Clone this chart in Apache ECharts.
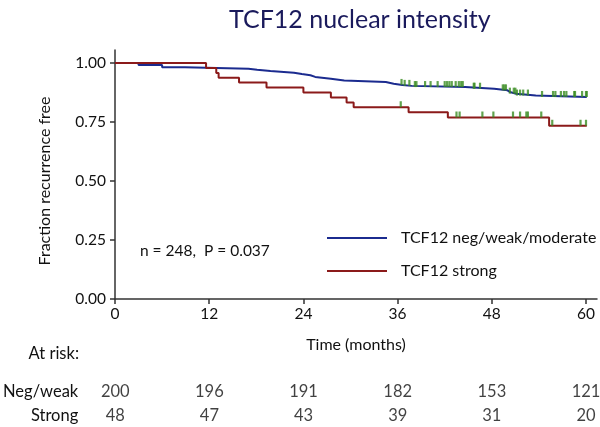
<!DOCTYPE html>
<html><head><meta charset="utf-8">
<script src="https://cdn.jsdelivr.net/npm/echarts@6/dist/echarts.min.js"></script>
<style>html,body{margin:0;padding:0;background:#fff}#c{width:600px;height:427px}</style>
</head><body><div id="c"></div>
<script>
// ---- data ----
const xTicks = [0, 12, 24, 36, 48, 60];
const yTicks = [0, 0.25, 0.5, 0.75, 1];
const seriesNames = ['TCF12 neg/weak/moderate', 'TCF12 strong'];
const negTimes = [0, 3.0, 6.0, 8.9, 17.0, 18.1, 19.8, 22.8, 23.8, 24.9, 25.5, 27.5, 29.2, 34.5, 35.5, 36.6, 37.8, 44.6, 48.3, 50.0, 50.3, 51.1, 53.6, 60.1];
const negSurv  = [1, 0.9915, 0.982, 0.976, 0.9716, 0.966, 0.959, 0.953, 0.948, 0.941, 0.9335, 0.926, 0.919, 0.912, 0.907, 0.903, 0.898, 0.891, 0.884, 0.877, 0.870, 0.862, 0.856, 0.856];
const strongTimes = [0, 11.6, 12.9, 13.2, 15.8, 19.3, 24.0, 27.5, 29.5, 30.4, 37.4, 42.4, 55.3, 60.1];
const strongSurv  = [1, 0.979, 0.958, 0.9375, 0.917, 0.896, 0.875, 0.854, 0.833, 0.8125, 0.791, 0.769, 0.734, 0.734];
const negCensor = [36.5, 36.9, 37.5, 38.2, 38.4, 39.5, 40.2, 41.1, 42.0, 42.3, 42.6, 42.9, 43.4, 43.8, 44.1, 44.3, 45.7, 45.8, 46.5, 49.4, 49.6, 49.8, 50.3, 50.8, 51.0, 51.2, 51.6, 52.0, 52.6, 54.4, 55.8, 56.1, 56.8, 57.2, 57.5, 58.5, 58.6, 59.5, 60.0, 60.1];
const strongCensor = [36.4, 43.5, 43.9, 46.8, 48.2, 50.7, 51.6, 52.4, 52.6, 54.3, 55.7, 59.3, 60.0];
const riskRows = ['Neg/weak', 'Strong'];
const riskNeg = [200, 196, 191, 182, 153, 121];
const riskStrong = [48, 47, 43, 39, 31, 20];
const annotation = 'n = 248,  P = 0.037';

// ---- helpers ----
function pairs(ts, ss) { return ts.map((t, i) => [t, ss[i]]); }
function survAt(ts, ss, t) { let v = ss[0]; for (let i = 0; i < ts.length; i++) { if (ts[i] <= t) v = ss[i]; } return v; }
const FONT = 'Lato';
const BLUE = '#1b2b8f', RED = '#8b1a1a', GREEN = '#3a8c22', AX = '#333';
const XMAX = 61.4, YMAX = 1.055;

const riskData = [];
xTicks.forEach((t, i) => { riskData.push([t, riskRows[0], riskNeg[i]]); riskData.push([t, riskRows[1], riskStrong[i]]); });

const chart = echarts.init(document.getElementById('c'));
chart.setOption({
  animation: false,
  textStyle: { fontFamily: FONT },
  title: { text: 'TCF12 nuclear intensity', left: 224, top: 2,
    textStyle: { fontFamily: FONT, fontSize: 25, fontWeight: 'normal', color: '#1a1a5c' } },
  grid: [
    { left: 115, top: 50, width: 482, height: 249 },
    { left: 115, top: 380, width: 482, height: 52 }
  ],
  legend: { data: seriesNames.map(n => ({ name: n, icon: 'rect' })), orient: 'vertical', left: 322, top: 223,
    itemWidth: 60, itemHeight: 2, itemGap: 13,
    textStyle: { fontFamily: FONT, fontSize: 16, color: '#111', padding: [0, 0, 0, 9], lineHeight: 20 } },
  xAxis: [
    { type: 'value', gridIndex: 0, min: 0, max: XMAX, interval: 12,
      name: 'Time (months)', nameLocation: 'middle', nameGap: 38,
      nameTextStyle: { fontFamily: FONT, fontSize: 16, color: '#111' },
      axisLine: { lineStyle: { color: AX, width: 1.5 } },
      axisTick: { customValues: xTicks, length: 5, lineStyle: { color: AX, width: 1.5 } },
      axisLabel: { customValues: xTicks, fontFamily: FONT, fontSize: 15.5, color: '#111', margin: 7 },
      splitLine: { show: false } },
    { type: 'value', gridIndex: 1, min: 0, max: XMAX, show: false }
  ],
  yAxis: [
    { type: 'value', gridIndex: 0, min: 0, max: YMAX,
      name: 'Fraction recurrence free', nameLocation: 'middle', nameGap: 62,
      nameTextStyle: { fontFamily: FONT, fontSize: 16, color: '#111', padding: [0, 13, 0, 0] },
      axisLine: { show: true, lineStyle: { color: AX, width: 1.5 } },
      axisTick: { show: true, customValues: yTicks, length: 5, lineStyle: { color: AX, width: 1.5 } },
      axisLabel: { customValues: yTicks, fontFamily: FONT, fontSize: 15.5, color: '#111', margin: 9,
        formatter: v => v.toFixed(2) },
      splitLine: { show: false } },
    { type: 'category', gridIndex: 1, data: riskRows, inverse: true,
      axisLine: { show: false }, axisTick: { show: false },
      axisLabel: { fontFamily: FONT, fontSize: 16.5, color: '#111', margin: 37 } }
  ],
  graphic: [
    { type: 'text', left: 140, top: 243, style: { text: annotation, font: '15.5px Lato', fill: '#111' } },
    { type: 'text', right: 521, top: 345, style: { text: 'At risk:', font: '16.5px Lato', fill: '#111', textAlign: 'right' } }
  ],
  series: [
    { name: seriesNames[0], type: 'line', step: 'end', symbol: 'none', data: pairs(negTimes, negSurv),
      lineStyle: { color: BLUE, width: 2 }, itemStyle: { color: BLUE }, z: 3 },
    { name: seriesNames[1], type: 'line', step: 'end', symbol: 'none', data: pairs(strongTimes, strongSurv),
      lineStyle: { color: RED, width: 2 }, itemStyle: { color: RED }, z: 3 },
    { name: 'neg censored', type: 'scatter', symbol: 'rect', symbolSize: [2.2, 6], symbolOffset: [0, -3],
      data: negCensor.map(t => [t, survAt(negTimes, negSurv, t)]), itemStyle: { color: GREEN }, z: 4, silent: true },
    { name: 'strong censored', type: 'scatter', symbol: 'rect', symbolSize: [2.2, 6], symbolOffset: [0, -3],
      data: strongCensor.map(t => [t, survAt(strongTimes, strongSurv, t)]), itemStyle: { color: GREEN }, z: 4, silent: true },
    { name: 'at risk', type: 'scatter', xAxisIndex: 1, yAxisIndex: 1, symbolSize: 1,
      itemStyle: { color: 'rgba(0,0,0,0)' }, data: riskData, silent: true,
      label: { show: true, position: 'inside', formatter: p => p.value[2], fontFamily: FONT, fontSize: 16.5, color: '#111' } }
  ]
});
</script>
</body></html>
